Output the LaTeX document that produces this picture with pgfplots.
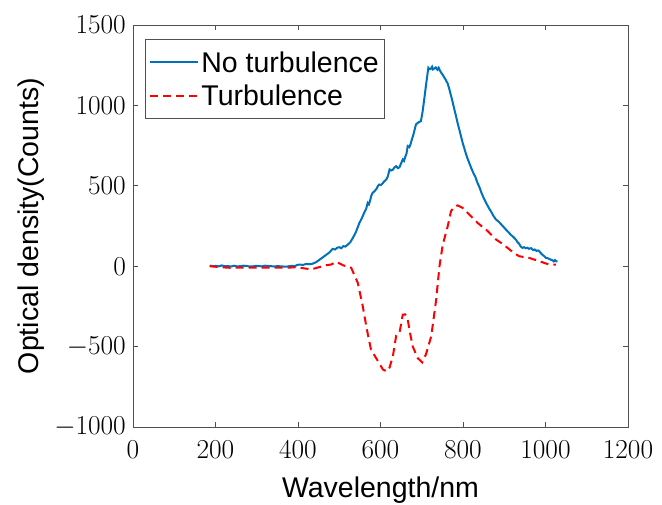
\documentclass[border=0pt]{standalone}
\usepackage{fontspec}
\setmainfont{Liberation Sans}
\usepackage{pgfplots}
\pgfplotsset{compat=1.18}
\definecolor{mblue}{RGB}{0,114,189}
\definecolor{axgray}{RGB}{80,80,80}
\begin{document}
\begin{tikzpicture}
\useasboundingbox (-133pt,-78pt) rectangle (529pt,427pt);
\begin{axis}[
  scale only axis,
  width=495pt, height=402pt,
  xmin=0, xmax=1200, ymin=-1000, ymax=1500,
  xtick={0,200,...,1200}, ytick={-1000,-500,0,500,1000,1500},
  tick align=inside,
  major tick length=5pt,
  axis line style={axgray, line width=0.8pt},
  tick style={axgray, line width=0.8pt},
  ticklabel style={font=\fontsize{24.88}{30}\selectfont, black, scale=1.1},
  scaled ticks=false,
  xticklabel style={/pgf/number format/1000 sep={}, yshift=-9pt},
  yticklabel style={/pgf/number format/1000 sep={}, xshift=-3pt},
  xlabel={Wavelength/nm},
  ylabel={Optical density(Counts)},
  label style={font=\fontsize{28.5}{32}\selectfont},
  xlabel style={at={(axis description cs:0.5,0)}, anchor=base, yshift=-71pt},
  ylabel style={at={(axis description cs:0,0.5)}, anchor=south, yshift=85pt},
  legend style={at={(axis description cs:0,1)}, anchor=north west, xshift=12pt, yshift=-14pt,
    draw=axgray, line width=0.8pt, fill=white, font=\fontsize{28.5}{32}\selectfont,
    inner xsep=4pt, inner ysep=10pt, row sep=7pt},
  legend cell align=left,
  legend image code/.code={\draw[#1, line width=2pt] (0pt,0pt) -- (48pt,0pt);},
]
\addplot[mblue, line width=2pt] coordinates {
(186,4) (193,0) (200,2) (208,-1) (215,5) (222,0) (230,1) (238,-2) (245,3) (252,-1) (260,0) (268,3) (275,2) (283,-2) (290,-1) (298,2) (305,1) (312,-1) (320,3) (328,2) (335,0) (343,-2) (350,1) (358,-1) (365,-2) (372,-3)
(378,0) (385,2) (392,0) (398,8) (404,10) (412,8) (420,14) (428,12) (436,16) (444,25) (452,40) (460,55) (468,70) (476,85) (484,108) (490,104) (495,115) (500,118) (505,112) (510,125) (515,122) (521,135) (527,150) (533,176) (540,210) (549,270)
(555,300) (560,330) (565,355) (569,394) (572,385) (575,410) (578,440) (581,456) (585,465) (590,480) (594,500) (597,508) (601,505) (605,515) (610,530) (614,539) (618,560) (622,602) (626,595) (630,600) (634,615) (638,622) (642,610) (646,615) (650,640)
(654,664) (657,655) (660,680) (663,700) (666,747) (670,740) (673,760) (676,788) (680,820) (686,882) (692,895) (698,902) (702,960) (706,1037) (711,1140) (716,1234) (719,1225) (722,1228) (725,1240) (727,1224) (731,1230)
(734,1236) (738,1222) (741,1234) (745,1212) (748,1200) (751,1190) (755,1172) (758,1160) (760,1150) (763,1135) (767,1100) (771,1060) (775,1020) (779,975) (783,934) (787,890) (790,860) (795,810) (799,768) (803,735) (807,700)
(811,670) (815,643) (820,610) (825,580) (830,555) (835,519) (840,490) (845,455) (850,425) (856,394) (862,365) (868,340) (874,312) (880,290) (886,278) (892,262) (898,245) (904,228) (910,212) (916,195) (922,182) (928,166) (932,150) (936,140)
(940,122) (944,114) (948,118) (952,112) (956,115) (960,108) (965,112) (970,100) (974,104) (978,95) (982,98) (985,93) (989,80) (993,70) (997,62) (1001,52) (1005,50) (1009,45) (1013,40) (1017,37) (1020,30) (1023,38) (1026,30) (1029,31)
};
\addlegendentry{No turbulence}
\addplot[red, line width=2pt, dash pattern=on 8pt off 5pt] coordinates {
(186,0) (210,-6) (235,-10) (270,-8) (300,-9) (340,-8) (372,-10) (396,-6) (432,-20) (468,6) (480,10) (493,27) (509,6)
(529,-10) (545,-104) (557,-249) (567,-394) (577,-519) (594,-591) (606,-643) (615,-654) (622,-630) (630,-560) (638,-432)
(646,-415) (654,-301) (660,-300) (666,-332) (672,-420) (678,-498) (690,-571) (701,-598) (710,-550) (723,-436) (735,-207)
(743,0) (751,135) (763,249) (771,342) (779,370) (787,378) (799,363) (815,322) (835,270) (860,218) (880,166) (895,140)
(908,114) (922,85) (936,62) (960,52) (985,31) (1009,10) (1025,10)
};
\addlegendentry{Turbulence}
\end{axis}
\end{tikzpicture}
\end{document}
